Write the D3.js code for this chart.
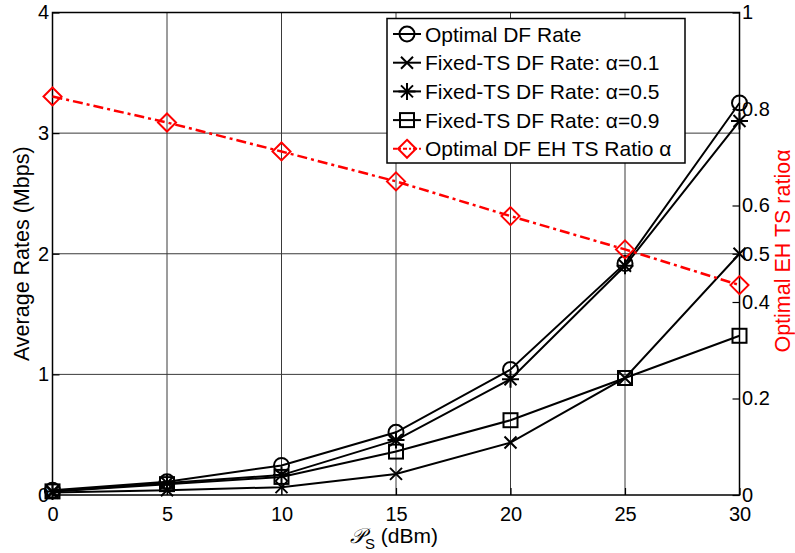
<!DOCTYPE html>
<html>
<head>
<meta charset="utf-8">
<script src="https://cdn.jsdelivr.net/npm/d3@7"></script>
<style>
  body { margin: 0; background: #fff; }
  svg { display: block; font-family: "Liberation Sans", Arial, sans-serif; }
</style>
</head>
<body>
<svg id="chart" width="795" height="553"></svg>
<script>
// source power in dBm
const powerDbm = [0, 5, 10, 15, 20, 25, 30];
// average rates (Mbps), left axis
const optimalRate = [0.04, 0.11, 0.245, 0.52, 1.04, 1.92, 3.25];
const fixedRate01 = [0.02, 0.04, 0.065, 0.175, 0.435, 0.97, 2.0];
const fixedRate05 = [0.03, 0.10, 0.165, 0.455, 0.96, 1.90, 3.1];
const fixedRate09 = [0.03, 0.09, 0.15, 0.36, 0.62, 0.97, 1.32];
// optimal EH TS ratio, right axis
const optimalRatio = [0.826, 0.772, 0.712, 0.65, 0.578, 0.509, 0.435];

const xTicks = [0, 5, 10, 15, 20, 25, 30];
const leftTicks = [0, 1, 2, 3, 4];
const rightTicks = [0, 0.2, 0.4, 0.5, 0.6, 0.8, 1];

const legendLabels = [
  "Optimal DF Rate",
  "Fixed-TS DF Rate: \u03b1=0.1",
  "Fixed-TS DF Rate: \u03b1=0.5",
  "Fixed-TS DF Rate: \u03b1=0.9",
  "Optimal DF EH TS Ratio \u03b1"
];

const svg = d3.select("#chart");
const L = 52.5, T = 12.5, R = 739.5, B = 495;
const fs = 20;

const x = d3.scaleLinear().domain([0, 30]).range([L, R]);
const yL = d3.scaleLinear().domain([0, 4]).range([B, T]);
const yR = d3.scaleLinear().domain([0, 1]).range([B, T]);

// grid
const grid = svg.append("g").attr("stroke", "#3a3a3a").attr("stroke-width", 1);
xTicks.slice(1, -1).forEach(t => {
  grid.append("line").attr("x1", x(t)).attr("x2", x(t)).attr("y1", T).attr("y2", B);
});
leftTicks.slice(1, -1).forEach(t => {
  grid.append("line").attr("x1", L).attr("x2", R).attr("y1", yL(t)).attr("y2", yL(t));
});

// frame
svg.append("rect")
  .attr("x", L).attr("y", T).attr("width", R - L).attr("height", B - T)
  .attr("fill", "none").attr("stroke", "#000").attr("stroke-width", 1.5);

// axes (inward ticks)
const tickLen = 7;
svg.append("g").attr("transform", `translate(0,${B})`)
  .call(d3.axisBottom(x).tickValues(xTicks).tickSizeInner(-tickLen).tickSizeOuter(0).tickPadding(12))
  .call(g => g.select(".domain").remove());
svg.append("g").attr("transform", `translate(${L},0)`)
  .call(d3.axisLeft(yL).tickValues(leftTicks).tickFormat(d3.format("d")).tickSizeInner(-tickLen).tickSizeOuter(0).tickPadding(3.5))
  .call(g => g.select(".domain").remove());
svg.append("g").attr("transform", `translate(${R},0)`)
  .call(d3.axisRight(yR).tickValues(rightTicks).tickFormat(d3.format("~g")).tickSizeInner(-tickLen).tickSizeOuter(0).tickPadding(2.5))
  .call(g => g.select(".domain").remove());
svg.selectAll(".tick text").attr("font-size", fs).attr("font-family", "Liberation Sans, Arial, sans-serif").attr("fill", "#000");
svg.selectAll(".tick line").attr("stroke", "#000").attr("stroke-width", 1.2);

// axis titles
svg.append("text")
  .attr("transform", `translate(29,${(T + B) / 2}) rotate(-90)`)
  .attr("text-anchor", "middle").attr("font-size", 21.5).text("Average Rates (Mbps)");
svg.append("text")
  .attr("transform", `translate(790,251) rotate(-90)`)
  .attr("text-anchor", "middle").attr("font-size", 21.5).attr("fill", "#ff0000")
  .text("Optimal EH TS ratio\u03b1");
const xl = svg.append("text").attr("x", 394).attr("y", 543).attr("text-anchor", "middle").attr("font-size", 21);
xl.append("tspan").attr("font-family", "DejaVu Sans").attr("font-style", "italic").text("\ud835\udcab");
xl.append("tspan").attr("font-size", 15).attr("dy", 6).text("S");
xl.append("tspan").attr("dy", -6).text(" (dBm)");

// markers
function marker(g, type, cx, cy, color) {
  const m = g.append("g").attr("transform", `translate(${cx},${cy})`)
    .attr("fill", "none").attr("stroke", color).attr("stroke-width", 2);
  if (type === "circle") m.append("circle").attr("r", 7.5);
  if (type === "square") m.append("rect").attr("x", -7).attr("y", -7).attr("width", 14).attr("height", 14);
  if (type === "diamond") m.append("path").attr("d", "M0,-9L9,0L0,9L-9,0Z");
  if (type === "x" || type === "star") {
    m.append("path").attr("d", "M-6,-6L6,6M-6,6L6,-6");
  }
  if (type === "star") m.append("path").attr("d", "M0,-8.5L0,8.5M-8.5,0L8.5,0");
}

const series = [
  { vals: optimalRate, y: yL, type: "circle", color: "#000", dash: null },
  { vals: fixedRate01, y: yL, type: "x", color: "#000", dash: null },
  { vals: fixedRate05, y: yL, type: "star", color: "#000", dash: null },
  { vals: fixedRate09, y: yL, type: "square", color: "#000", dash: null },
  { vals: optimalRatio, y: yR, type: "diamond", color: "#ff0000", dash: "10,4,3,4" }
];

series.forEach(s => {
  const line = d3.line().x((d, i) => x(powerDbm[i])).y(d => s.y(d));
  svg.append("path").attr("d", line(s.vals))
    .attr("fill", "none").attr("stroke", s.color).attr("stroke-width", s.dash ? 2.5 : 2)
    .attr("stroke-dasharray", s.dash);
  const g = svg.append("g");
  s.vals.forEach((v, i) => marker(g, s.type, x(powerDbm[i]), s.y(v), s.color));
});

// legend
const lg = svg.append("g");
lg.append("rect").attr("x", 387).attr("y", 18.5).attr("width", 298).attr("height", 144.5)
  .attr("fill", "#fff").attr("stroke", "#000").attr("stroke-width", 1.5);
series.forEach((s, i) => {
  const cy = 34 + i * 28.7;
  lg.append("line").attr("x1", 393).attr("x2", 421).attr("y1", cy).attr("y2", cy)
    .attr("stroke", s.color).attr("stroke-width", 2).attr("stroke-dasharray", s.dash ? "4,2,2,2" : null);
  marker(lg, s.type, 407, cy, s.color);
  lg.append("text").attr("x", 425).attr("y", cy).attr("dy", "0.36em")
    .attr("font-size", 21).text(legendLabels[i]);
});
</script>
</body>
</html>
